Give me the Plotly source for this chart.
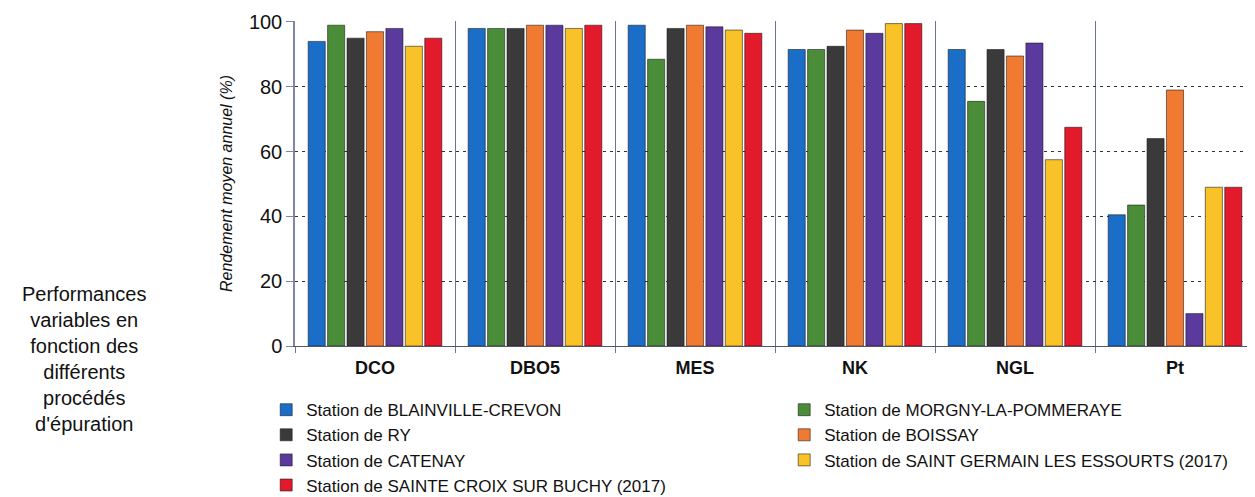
import plotly.graph_objects as go

categories = ["DCO", "DBO5", "MES", "NK", "NGL", "Pt"]
station_names = [
    "Station de BLAINVILLE-CREVON",
    "Station de MORGNY-LA-POMMERAYE",
    "Station de RY",
    "Station de BOISSAY",
    "Station de CATENAY",
    "Station de SAINT GERMAIN LES ESSOURTS (2017)",
    "Station de SAINTE CROIX SUR BUCHY (2017)",
]
blainville = [94, 98, 99, 91.5, 91.5, 40.5]
morgny = [99, 98, 88.5, 91.5, 75.5, 43.5]
ry = [95, 98, 98, 92.5, 91.5, 64]
boissay = [97, 99, 99, 97.5, 89.5, 79]
catenay = [98, 99, 98.5, 96.5, 93.5, 10]
saint_germain = [92.5, 98, 97.5, 99.5, 57.5, 49]
sainte_croix = [95, 99, 96.5, 99.5, 67.5, 49]

series = [blainville, morgny, ry, boissay, catenay, saint_germain, sainte_croix]
colors = ["#1a6ec8", "#4a8c38", "#3a3a3a", "#f07a32", "#5b3a9e", "#f8c228", "#e21a2c"]

fig = go.Figure()
for name, vals, col in zip(station_names, series, colors):
    fig.add_trace(go.Bar(
        x=categories, y=vals, name=name,
        marker=dict(color=col, line=dict(color="rgba(20,20,20,0.55)", width=1)),
    ))

font_family = "Liberation Sans, Arial, sans-serif"

# page body has an 8px default margin, so the figure is sized/offset to compensate
fig.update_layout(
    width=1247, height=489,
    margin=dict(l=287, r=0, t=13, b=151, autoexpand=False),
    paper_bgcolor="rgba(0,0,0,0)", plot_bgcolor="white",
    barmode="group", bargap=0.15, bargroupgap=0.12,
    font=dict(family=font_family, color="#111111"),
    showlegend=True,
    legend=dict(
        orientation="h", x=-0.03, y=-0.142, xanchor="left", yanchor="top",
        entrywidth=473, entrywidthmode="pixels",
        bgcolor="rgba(0,0,0,0)",
        font=dict(size=17, family=font_family, color="#111111"),
        itemwidth=30, traceorder="normal",
    ),
    xaxis=dict(
        type="category",
        tickson="boundaries", ticks="outside", ticklen=6, tickcolor="#6a7590",
        showgrid=True, gridcolor="#6a7590", gridwidth=1,
        showline=True, linecolor="#555566", linewidth=1,
        ticklabelstandoff=5,
        tickfont=dict(size=18, family="Liberation Sans, Arial", color="#111111", weight="bold"),
    ),
    yaxis=dict(
        range=[0, 100.3], tickvals=[0, 20, 40, 60, 80, 100],
        ticks="outside", ticklen=7, tickcolor="#7d86a8",
        showline=True, linecolor="#7d86a8", linewidth=1.5,
        showgrid=True, gridcolor="#333333", gridwidth=1, griddash="3px,4px",
        zeroline=False,
        tickfont=dict(size=20, family=font_family, color="#111111"),
        title=dict(text="<i>Rendement moyen annuel (%)</i>", font=dict(size=16, family=font_family, color="#111111"), standoff=12),
    ),
)

fig.add_annotation(
    xref="paper", yref="paper", x=-0.219, y=-0.04,
    xanchor="center", yanchor="middle", showarrow=False, align="center",
    text="Performances<br>variables en<br>fonction des<br>différents<br>procédés<br>d'épuration",
    font=dict(size=20, family=font_family, color="#111111"),
)

fig.write_html("out.html")
